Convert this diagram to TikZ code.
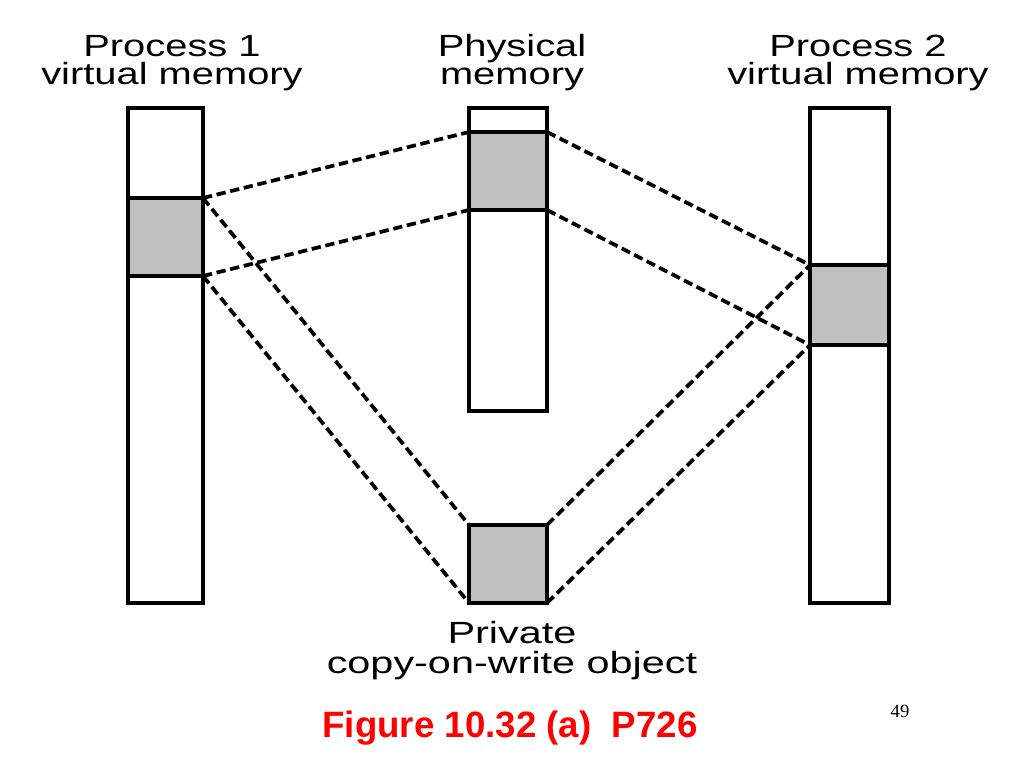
\documentclass[tikz,border=0pt]{standalone}
\usepackage{fontspec}
\newfontfamily\lblfont[FakeStretch=1.3]{Liberation Sans}
\newfontfamily\lblwidefont[FakeStretch=1.35]{Liberation Sans}
\newfontfamily\capfont{Liberation Sans}
\newfontfamily\numfont{Liberation Serif}
\begin{document}
\begin{tikzpicture}[x=0.75pt,y=-0.75pt,
  membar/.style={draw=black,line width=2.5pt,fill=white,inner sep=0pt,outer sep=0pt},
  memgray/.style={draw=black,line width=2.5pt,fill=gray75,inner sep=0pt,outer sep=0pt},
  link/.style={draw=black,line width=2.8pt,dash pattern=on 7pt off 3.5pt},
  lbl/.style={inner sep=0pt,align=center,font=\lblfont\fontsize{23pt}{21pt}\selectfont}]
\definecolor{gray75}{HTML}{C0C0C0}
\useasboundingbox (0,0) rectangle (1024,768);
\fill[white] (0,0) rectangle (1024,768);
% bars
\node[membar,minimum width=56.25pt,minimum height=371.25pt] (p1) at (165.5,355.5) {};
\node[membar,minimum width=58.5pt,minimum height=227.25pt] (ph) at (508,259.5) {};
\node[membar,minimum width=59.25pt,minimum height=371.25pt] (p2) at (849.5,355.5) {};
% gray regions
\node[memgray,minimum width=56.25pt,minimum height=58.5pt] (p1g) at (165.5,237) {};
\node[memgray,minimum width=58.5pt,minimum height=58.5pt] (phg) at (508,171) {};
\node[memgray,minimum width=59.25pt,minimum height=60pt] (p2g) at (849.5,305) {};
\node[memgray,minimum width=58.5pt,minimum height=58.5pt] (cow) at (508,564) {};
% links
\draw[link] (p1g.north east) -- (phg.north west);
\draw[link] (p1g.south east) -- (phg.south west);
\draw[link] (p1g.north east) -- (cow.north west);
\draw[link] (p1g.south east) -- (cow.south west);
\draw[link] (phg.north east) -- (p2g.north west);
\draw[link] (phg.south east) -- (p2g.south west);
\draw[link] (cow.north east) -- (p2g.north west);
\draw[link] (cow.south east) -- (p2g.south west);
% labels
\node[lbl] (t1) at (172,63) {Process 1\\virtual memory};
\node[lbl] (t2) at (512,63) {Physical\\memory};
\node[lbl] (t3) at (858,63) {Process 2\\virtual memory};
\node[lbl,font=\lblwidefont\fontsize{23pt}{22.5pt}\selectfont] (t4) at (512,651) {Private\\copy-on-write object};
\node[inner sep=0pt,anchor=base,text=red,font=\capfont\bfseries\fontsize{27.5pt}{30pt}\selectfont] (cap) at (510,737) {Figure 10.32 (a)\ \ P726};
\node[inner sep=0pt,anchor=base,font=\numfont\fontsize{14pt}{16pt}\selectfont] (pg) at (900,717) {49};
\end{tikzpicture}
\end{document}
